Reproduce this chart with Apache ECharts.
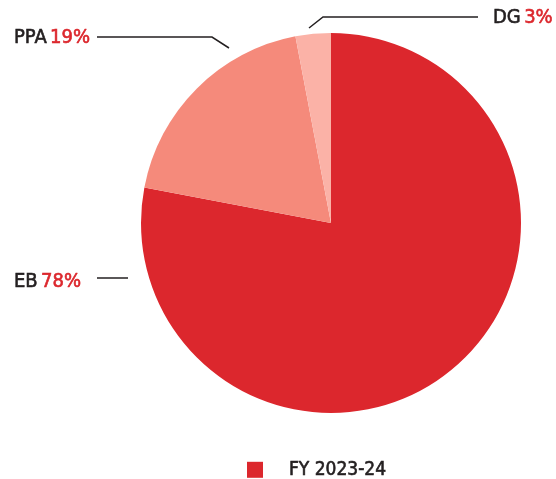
<!DOCTYPE html>
<html><head><meta charset="utf-8">
<script src="https://cdn.jsdelivr.net/npm/echarts@6/dist/echarts.min.js"></script>
<style>html,body{margin:0;padding:0;background:#fff}#c{width:556px;height:479px}</style>
</head><body><div id="c"></div>
<script>
var categories = ['EB', 'PPA', 'DG'];
var values = [78, 19, 3];
var colors = ['#dc272d', '#f58a7b', '#fbb2a7'];
var legendName = 'FY 2023-24';

var FONT = "'DejaVu Sans Condensed', 'Roboto', sans-serif";
var DARK = '#231f20';
var RED = '#dc272d';

// label anchors (annotation placement only)
var labelPlaces = {
  EB:  {x: 14,  y: 282, line: [[128, 278], [112, 278], [97, 278]]},
  PPA: {x: 14,  y: 38,  line: [[229, 48], [212, 37], [97, 37]]},
  DG:  {x: 493, y: 18,  line: [[309, 28], [323, 17], [478, 17]]}
};

var chart = echarts.init(document.getElementById('c'));
chart.setOption({
  animation: false,
  legend: {
    data: [{name: legendName, icon: 'rect', itemStyle: {color: colors[0]}}],
    left: 247, top: 460,
    padding: 0,
    itemWidth: 16, itemHeight: 16,
    textStyle: {fontFamily: FONT, fontSize: 19, color: DARK, textBorderColor: DARK, textBorderWidth: 0.6, padding: [0, 0, 0, 21]}
  },
  series: [{
    name: legendName,
    type: 'pie',
    center: [331, 223],
    radius: 190,
    startAngle: 90,
    clockwise: true,
    data: categories.map(function (c, i) {
      return {name: c, value: values[i], itemStyle: {color: colors[i]}};
    }),
    label: {
      show: true,
      position: 'outside',
      overflow: 'none',
      formatter: function (p) { return '{a|' + p.name + '} {b|' + p.value + '%}'; },
      rich: {
        a: {fontFamily: FONT, fontSize: 20, color: DARK, textBorderColor: DARK, textBorderWidth: 0.6},
        b: {fontFamily: FONT, fontSize: 20, color: RED, textBorderColor: RED, textBorderWidth: 0.6}
      }
    },
    labelLine: {show: true, lineStyle: {color: DARK, width: 1.5}},
    labelLayout: function (params) {
      var p = labelPlaces[categories[params.dataIndex]];
      return {x: p.x, y: p.y, align: 'left', verticalAlign: 'middle', labelLinePoints: p.line};
    },
    emphasis: {disabled: true}
  }]
});
</script></body></html>
